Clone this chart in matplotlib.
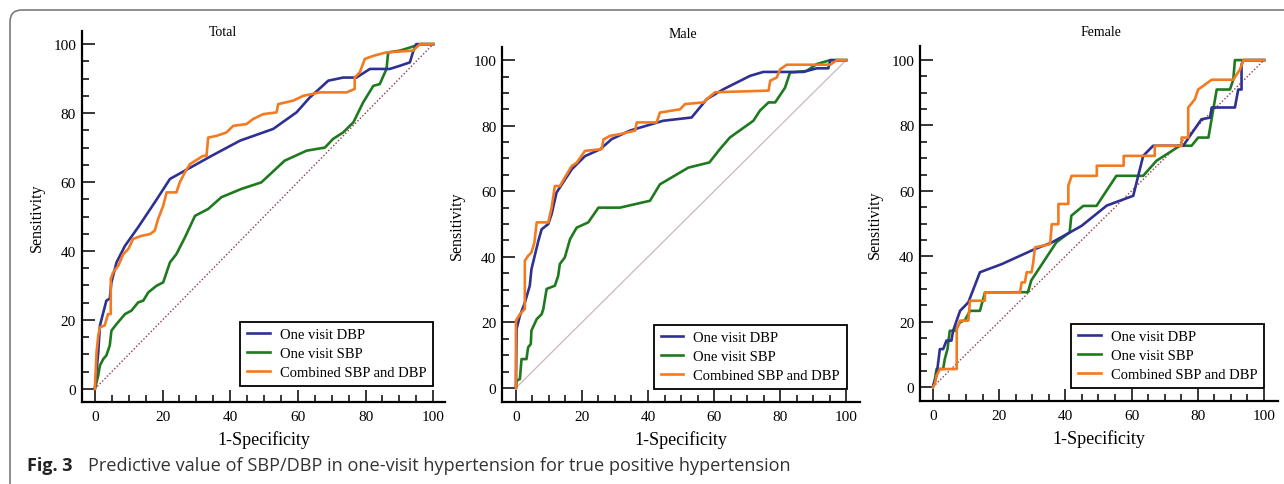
import matplotlib
matplotlib.use("Agg")
import matplotlib.pyplot as plt
from matplotlib.patches import FancyBboxPatch
from matplotlib.transforms import IdentityTransform
from matplotlib.ticker import MultipleLocator

# ROC curves: x = 1-Specificity (%), y = Sensitivity (%)
total_dbp_x = [0, 1, 1.5, 3.4, 4.4, 4.9, 6.4, 8.9, 12.8, 17.7, 22.2, 26.6, 34.5, 42.9, 52.7, 59.6, 63.5, 69, 73.4, 77.3, 81.3, 87.2, 90.1, 93.1, 94, 95, 100]
total_dbp_y = [0, 10.6, 18.4, 25.6, 26.2, 30.9, 36.7, 41.5, 46.9, 54.1, 60.9, 63.3, 67.6, 72, 75.4, 80.2, 84.5, 89.4, 90.3, 90.3, 92.8, 92.8, 93.7, 94.7, 97.6, 100, 100]
total_sbp_x = [0, 1, 1.5, 2.5, 3.4, 4.4, 4.9, 6.4, 8.9, 10.8, 12.8, 14.3, 15.8, 18.2, 20.2, 22.2, 24.1, 26.6, 29.6, 33.5, 37.4, 43.3, 49.2, 56.1, 62.6, 68, 70.4, 73.4, 76.4, 79.3, 82.3, 84.2, 86.2, 86.7, 90.1, 93.1, 96.1, 100]
total_sbp_y = [0, 3.9, 6.8, 8.7, 9.7, 12.6, 16.9, 18.8, 21.7, 22.7, 25.1, 25.6, 28, 29.9, 30.9, 36.7, 39.1, 43.9, 50.2, 52.2, 55.6, 58, 59.9, 66.2, 69.1, 70, 72.5, 74.4, 77.3, 83.1, 87.9, 88.4, 92.8, 97.6, 98.1, 99, 100, 100]
total_comb_x = [0, 0.5, 1, 1.5, 2.9, 3.9, 4.7, 4.7, 5.4, 6.9, 8.4, 9.9, 11.3, 13.8, 16.3, 17.7, 18.7, 20.2, 21.2, 24.1, 25.1, 26.6, 28.1, 32, 33, 33.5, 36, 38.9, 40.9, 44.8, 46.8, 49.8, 53.7, 54.2, 58.6, 61.6, 66.5, 74.4, 76.8, 76.8, 78.3, 79.8, 82.3, 86.2, 94, 96.1, 100]
total_comb_y = [0, 10.6, 15.5, 17.9, 18.4, 21.7, 21.7, 31.9, 33.8, 35.7, 39.1, 40.6, 43.5, 44.4, 44.9, 45.9, 49.3, 53.1, 57, 57, 59.9, 62.8, 65.2, 67.6, 67.6, 72.9, 73.4, 74.4, 76.3, 76.8, 78.3, 79.7, 80.2, 82.6, 83.6, 85, 86, 86, 87, 90.3, 91.8, 95.7, 96.6, 97.6, 98.1, 100, 100]

male_dbp_x = [0, 0.2, 1.2, 2.7, 4.2, 4.7, 6.8, 7.8, 9.8, 10.8, 12.3, 14.3, 16.9, 20.9, 25.5, 29, 34.5, 44.6, 53.2, 57.8, 62.8, 70.9, 74.9, 80, 87, 91.1, 94.6, 95.2, 100]
male_dbp_y = [0, 18, 22, 26, 31.2, 36.2, 44.9, 48.4, 50, 53, 59.6, 62.7, 66.7, 70.7, 72.8, 75.9, 78.5, 81.5, 82.5, 88.1, 91.1, 95.2, 96.4, 96.4, 96.4, 97.5, 97.5, 100, 100]
male_sbp_x = [0, 0.2, 1.2, 1.7, 3.2, 3.7, 4.5, 4.7, 6.3, 7.8, 8.3, 9.3, 11.8, 12.8, 13.3, 14.8, 16.4, 18.4, 21.9, 25, 31.5, 40.6, 43.6, 52.2, 58.6, 61.8, 64.8, 71.9, 73.9, 76.5, 78.5, 81.5, 83, 88, 91.1, 95.2, 100]
male_sbp_y = [0, 2.2, 2.7, 8.8, 8.8, 12.4, 13.4, 17.5, 21, 22.5, 24.1, 30.2, 31.2, 34.2, 37.8, 39.8, 45.4, 48.9, 50.5, 55, 55, 57.1, 62.1, 67.2, 68.8, 72.9, 76.4, 81.5, 84.6, 87.1, 87.1, 91.6, 96.2, 96.7, 98.8, 100, 100]
male_comb_x = [0, 0, 1.2, 2.7, 2.7, 3.7, 4.7, 5.6, 6.3, 9.8, 10.8, 11.8, 13.3, 15.4, 16.9, 18.4, 20.9, 25.5, 26, 26.5, 28.5, 31.5, 36.1, 36.6, 42.6, 43.6, 49.7, 51.2, 56.8, 57.8, 60.3, 76.5, 77, 79, 80, 82, 95.2, 97.2, 100]
male_comb_y = [0, 20.5, 22.5, 24.1, 38.8, 40.3, 41.3, 44.4, 50.5, 50.5, 55, 61.6, 61.6, 65.2, 67.7, 68.7, 72.3, 72.8, 72.9, 75.8, 76.9, 77.4, 78.5, 81, 81, 84, 85, 86.6, 87.1, 88.1, 90.2, 90.7, 93.7, 94.7, 97.2, 98.6, 98.6, 100, 100]

female_dbp_x = [0, 1.1, 2.1, 3.1, 4.1, 5.6, 6.1, 8.2, 10.7, 14.2, 20.8, 30.8, 35.9, 44.9, 52.5, 60.5, 63.5, 66.5, 75.6, 77.6, 81.1, 83.7, 84.2, 91.2, 92.2, 93.2, 93.2, 93.8, 100]
female_dbp_y = [0, 3.5, 11.6, 11.6, 14.2, 14.2, 17.2, 23.3, 25.9, 35.1, 37.6, 42.2, 44.2, 49.3, 55.5, 58.5, 70.7, 73.8, 73.8, 76.8, 81.9, 82.4, 85.5, 85.5, 91, 91, 98.7, 100, 100]
female_sbp_x = [0, 0.6, 1.1, 3.1, 3.6, 4.4, 5.1, 6.7, 8.2, 9.7, 11.2, 14.2, 15.7, 26.2, 28.7, 29.7, 37.3, 41.3, 41.8, 45.4, 49.4, 55.4, 63.5, 67.5, 74.6, 78.1, 80.1, 83.2, 85.7, 89.7, 90.7, 91.2, 100]
female_sbp_y = [0, 2.4, 5.5, 5.5, 8.6, 11.6, 17.2, 17.2, 19.8, 20.5, 23.3, 23.3, 28.9, 29, 29, 32.6, 44.3, 47.3, 52.4, 55.4, 55.4, 64.6, 64.6, 69.2, 73.8, 73.8, 76.3, 76.3, 91, 91, 94, 100, 100]
female_comb_x = [0, 0.6, 1.1, 2.1, 7.2, 7.2, 8.2, 10.7, 11.2, 15.7, 15.7, 26.3, 26.8, 27.8, 28.3, 29.8, 30.3, 30.8, 35.4, 35.9, 37.9, 37.9, 40.9, 40.9, 41.9, 49.5, 49.5, 57.6, 57.6, 67, 67, 75.1, 75.1, 77.1, 77.1, 79.1, 80.1, 84.2, 90.7, 92.7, 93.8, 100]
female_comb_y = [0, 0.9, 3.5, 5.5, 5.5, 17.6, 20.3, 20.3, 26.4, 26.4, 28.9, 28.9, 32, 32, 35.1, 35.1, 38.1, 42.7, 43.7, 49.8, 49.8, 56, 56, 61.6, 64.6, 64.6, 67.7, 67.7, 70.7, 70.7, 73.8, 73.8, 76.3, 76.3, 85.5, 88, 91, 94, 94, 97.1, 100, 100]

panel_titles = ["Total", "Male", "Female"]
legend_labels = ["One visit DBP", "One visit SBP", "Combined SBP and DBP"]
tick_values = [0, 20, 40, 60, 80, 100]

c_dbp = "#2e3192"
c_sbp = "#1f7a1f"
c_comb = "#f47a20"

plt.rcParams["font.family"] = ["Liberation Serif", "DejaVu Serif"]

fig = plt.figure(figsize=(12.84, 4.85), dpi=100)

# panel layout in figure fractions + axis limits matching the picture
panels = [
    dict(rect=[0.0636, 0.169, 0.283, 0.765], xlim=(-3.9, 103.5), ylim=(-3.8, 103.8),
         data=[(total_dbp_x, total_dbp_y), (total_sbp_x, total_sbp_y), (total_comb_x, total_comb_y)],
         diag=dict(color="#8b3a4a", lw=1.0, ls=(0, (1, 1.5))), leg=(0.3372, 0.202), title=(223, 452)),
    dict(rect=[0.391, 0.169, 0.2788, 0.732], xlim=(-4.2, 104.2), ylim=(-4.3, 104.0),
         data=[(male_dbp_x, male_dbp_y), (male_sbp_x, male_sbp_y), (male_comb_x, male_comb_y)],
         diag=dict(color="#cdb8b8", lw=0.9, ls="-"), leg=(0.6594, 0.196), title=(683, 451)),
    dict(rect=[0.7165, 0.171, 0.2788, 0.732], xlim=(-3.9, 104.2), ylim=(-4.3, 104.3),
         data=[(female_dbp_x, female_dbp_y), (female_sbp_x, female_sbp_y), (female_comb_x, female_comb_y)],
         diag=dict(color="#8b3a4a", lw=1.0, ls=(0, (1, 1.5))), leg=(0.9844, 0.198), title=(1101, 452)),
]

for i, p in enumerate(panels):
    ax = fig.add_axes(p["rect"])
    ax.plot([0, 100], [0, 100], color=p["diag"]["color"], lw=p["diag"]["lw"], ls=p["diag"]["ls"], zorder=1)
    (dx, dy), (sx, sy), (cx, cy) = p["data"]
    ax.plot(dx, dy, color=c_dbp, lw=1.9, label=legend_labels[0], zorder=3)
    ax.plot(sx, sy, color=c_sbp, lw=1.9, label=legend_labels[1], zorder=2)
    ax.plot(cx, cy, color=c_comb, lw=1.9, label=legend_labels[2], zorder=4)
    ax.set_xlim(*p["xlim"])
    ax.set_ylim(*p["ylim"])
    ax.spines["top"].set_visible(False)
    ax.spines["right"].set_visible(False)
    ax.spines["left"].set_linewidth(1.6)
    ax.spines["bottom"].set_linewidth(1.6)
    ax.set_xticks(tick_values)
    ax.set_yticks(tick_values)
    ax.xaxis.set_minor_locator(MultipleLocator(5))
    ax.yaxis.set_minor_locator(MultipleLocator(5))
    ax.tick_params(which="major", direction="in", length=9, width=1.1, labelsize=11, pad=6)
    ax.tick_params(which="minor", direction="in", length=5, width=1.1)
    ax.tick_params(axis="y", which="major", pad=4)
    ax.set_xlabel("1-Specificity", fontsize=13, labelpad=5)
    ax.set_ylabel("Sensitivity", fontsize=11.5, labelpad=6)
    leg = ax.legend(loc="lower right", bbox_to_anchor=p["leg"], bbox_transform=fig.transFigure,
                    borderaxespad=0, fancybox=False, framealpha=1, edgecolor="black",
                    fontsize=10.5, handlelength=1.55, handletextpad=0.7, labelspacing=0.4,
                    borderpad=0.45)
    leg.get_frame().set_linewidth(1.3)
    tx, ty = p["title"]
    fig.text(tx / 1284, ty / 485, panel_titles[i], ha="center", va="center", fontsize=10)

# rounded frame around the figure, open to the right and bottom
frame = FancyBboxPatch((10, -60), 1400, 485 - 11 + 60, boxstyle="round,pad=0,rounding_size=12",
                       transform=IdentityTransform(), fill=False, edgecolor="#7a7a7a", lw=1.2)
fig.add_artist(frame)

fig.text(27 / 1284, 1 - 466 / 485, "Fig. 3", ha="left", va="center", fontsize=13,
         fontweight="bold", family=["Open Sans", "DejaVu Sans"], color="#222222")
fig.text(88 / 1284, 1 - 466 / 485,
         "Predictive value of SBP/DBP in one-visit hypertension for true positive hypertension",
         ha="left", va="center", fontsize=13.1, family=["Open Sans", "DejaVu Sans"], color="#333333")

fig.savefig("out.png", dpi=100)
